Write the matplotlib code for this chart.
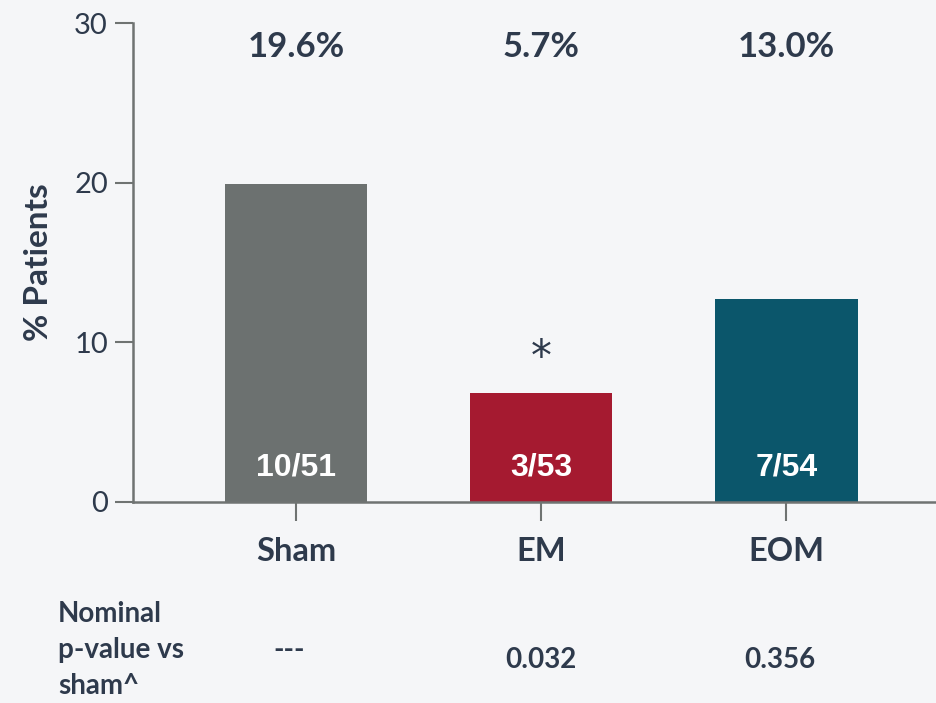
import matplotlib.pyplot as plt

# data
groups = ['Sham', 'EM', 'EOM']
bar_values = [19.9, 6.85, 12.7]
pct_labels = ['19.6%', '5.7%', '13.0%']
count_labels = ['10/51', '3/53', '7/54']
p_values = ['---', '0.032', '0.356']
colors = ['#6c7170', '#a51a30', '#0b566b']

dark = '#2e3a4c'
bg = '#f5f6f8'

plt.rcParams['font.family'] = ['Lato', 'DejaVu Sans']

fig = plt.figure(figsize=(9.36, 7.03), dpi=100, facecolor=bg)
ax = fig.add_axes([133 / 936, 1 - 502 / 703, 803 / 936, 479 / 703])
ax.set_facecolor('none')

x = list(range(len(groups)))
ax.bar(x, bar_values, width=0.58, color=colors, zorder=1)

ax.set_xlim(-0.665, 2.61)
ax.set_ylim(0, 30)
ax.set_yticks([0, 10, 20, 30])
ax.set_xticks(x)
ax.set_xticklabels(groups, fontsize=23.5, fontweight='bold', color=dark)
ax.tick_params(axis='y', labelsize=21, labelcolor=dark, length=13, width=1.5,
               color='#6f7372', pad=5)
ax.tick_params(axis='x', length=14, width=1.5, color='#6f7372', pad=11)

for s in ['top', 'right']:
    ax.spines[s].set_visible(False)
for s in ['left', 'bottom']:
    ax.spines[s].set_color('#6f7372')
    ax.spines[s].set_linewidth(1.8)
    ax.spines[s].set_zorder(3)

ax.set_ylabel('% Patients', fontsize=24, fontweight='bold', color=dark, labelpad=15)

for xi, pct, cnt in zip(x, pct_labels, count_labels):
    ax.text(xi, 28.5, pct, ha='center', va='center', fontsize=25,
            fontweight='bold', color=dark)
    ax.text(xi, 2.15, cnt, ha='center', va='center', fontsize=23,
            fontweight='bold', color='white', family='Liberation Sans', zorder=4)

ax.text(1, 9.0, '*', ha='center', va='center', fontsize=30, color=dark,
        family='DejaVu Sans')

# p-value row
fig.text(58 / 936, 1 - 650 / 703, 'Nominal\np-value vs\nsham^', ha='left', va='center',
         fontsize=20, fontweight='bold', color=dark, linespacing=1.5)
for xi, pv in zip(x, p_values):
    px = ax.transData.transform((xi, 0))[0] / fig.bbox.width
    if pv == '---':
        px = 289 / 936
        py = 1 - 650 / 703
    else:
        py = 1 - 660 / 703
        if xi == 2:
            px = 780 / 936
    fig.text(px, py, pv, ha='center', va='center', fontsize=20,
             fontweight='bold', color=dark)

fig.savefig('out.png', dpi=100, facecolor=bg)
